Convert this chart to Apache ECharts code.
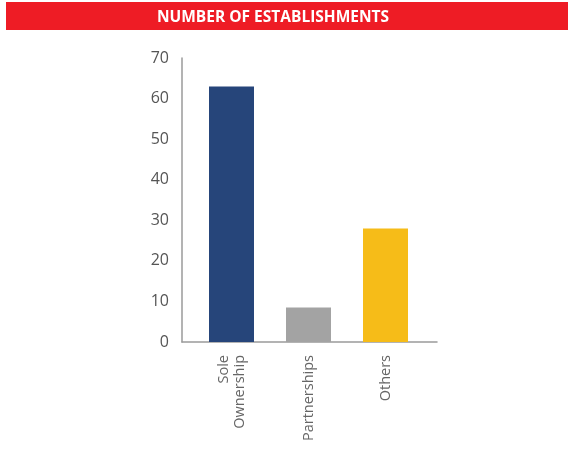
<!DOCTYPE html>
<html>
<head>
<meta charset="utf-8">
<script src="https://cdn.jsdelivr.net/npm/echarts@6/dist/echarts.min.js"></script>
<style>html,body{margin:0;padding:0;background:#fff}#c{width:568px;height:450px}</style>
</head>
<body>
<div id="c"></div>
<script>
const categories = ['Sole\nOwnership', 'Partnerships', 'Others'];
const values = [63, 8.5, 28];
const barColors = ['#26457A', '#A3A3A3', '#F6BC18'];
const yTicks = [0, 10, 20, 30, 40, 50, 60, 70];

const chart = echarts.init(document.getElementById('c'), null, {renderer: 'canvas'});
const font = '"Open Sans", "Noto Sans", sans-serif';
chart.setOption({
  animation: false,
  title: {
    text: 'NUMBER OF ESTABLISHMENTS',
    left: 268, top: 5, textAlign: 'center',
    textStyle: {color: '#fff', fontSize: 15.5, fontWeight: 'bold', fontFamily: font}
  },
  graphic: [{
    type: 'rect', z: -1,
    shape: {x: 6, y: 2, width: 562, height: 28},
    style: {fill: '#EE1C25'}
  }],
  grid: [
    {left: 182, right: 131, top: 58, bottom: 108},
    {left: 193, right: 144, top: 58, bottom: 108}
  ],
  xAxis: [
    {gridIndex: 0, type: 'category', data: categories,
     axisLine: {lineStyle: {color: '#9a9a9a', width: 1.5}},
     axisTick: {show: false}, axisLabel: {show: false}},
    {gridIndex: 1, type: 'category', data: categories,
     axisLine: {show: false}, axisTick: {show: false},
     axisLabel: {rotate: 90, margin: 13, color: '#666', fontSize: 14.5,
       fontFamily: font, lineHeight: 16}}
  ],
  yAxis: [
    {gridIndex: 0, type: 'value', min: 0, max: 70, interval: 10,
     axisLine: {show: true, lineStyle: {color: '#9a9a9a', width: 1.5}},
     axisTick: {show: false}, splitLine: {show: false},
     axisLabel: {margin: 13, color: '#555', fontSize: 16, fontFamily: font,
       formatter: v => yTicks.includes(v) ? String(v) : ''}},
    {gridIndex: 1, type: 'value', min: 0, max: 70, interval: 10,
     axisLine: {show: false}, axisTick: {show: false}, splitLine: {show: false},
     axisLabel: {show: false}}
  ],
  series: [{
    type: 'bar', xAxisIndex: 1, yAxisIndex: 1,
    barWidth: 45,
    data: values.map((v, i) => ({value: v, itemStyle: {color: barColors[i]}}))
  }]
});
</script>
</body>
</html>
